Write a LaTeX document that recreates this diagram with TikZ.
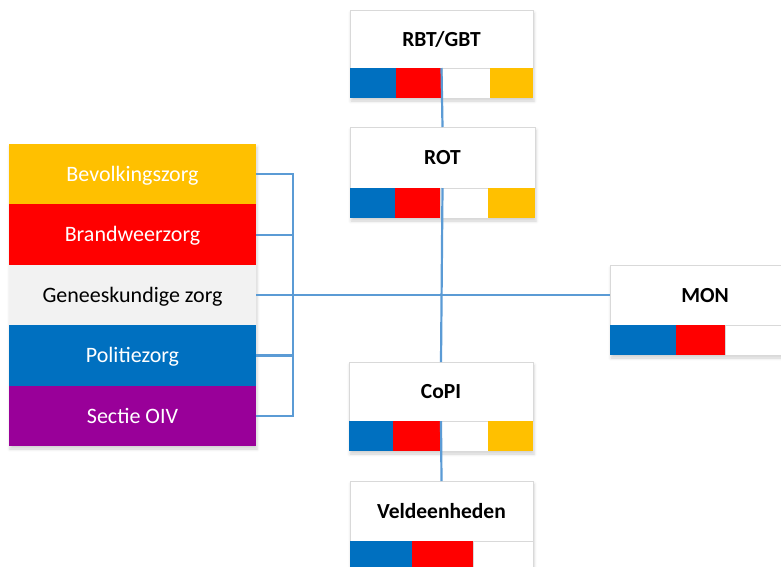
\documentclass[tikz,border=0pt]{standalone}
\usepackage{fontspec}
\setmainfont{Carlito}
\usetikzlibrary{shadows.blur}
\definecolor{cblue}{HTML}{0070C0}
\definecolor{cred}{HTML}{FF0000}
\definecolor{cyellow}{HTML}{FFC000}
\definecolor{cgray}{HTML}{F2F2F2}
\definecolor{cpurple}{HTML}{990099}
\definecolor{linec}{HTML}{5B9BD5}
\definecolor{boxgray}{HTML}{D9D9D9}
\begin{document}
\begin{tikzpicture}[x=1pt,y=-1pt,
  bg/.style={fill=white, anchor=north west, inner sep=0, outer sep=0,
    blur shadow={shadow xshift=1pt, shadow yshift=-3pt, shadow blur radius=3pt, shadow opacity=18}},
  lbl/.style={draw=boxgray, line width=0.7, fill=white, anchor=north west, inner sep=0, outer sep=0,
    minimum width=183pt, minimum height=58pt, font=\bfseries\fontsize{21.5}{25}\selectfont,
    text height=15pt, text depth=1pt},
  seg/.style={anchor=north west, inner sep=0, outer sep=0, minimum height=30pt},
  wseg/.style={seg, fill=white, draw=boxgray, line width=0.7},
  zone/.style={anchor=north west, inner sep=0, outer sep=0, minimum width=247pt,
    minimum height=60.4pt, font=\fontsize{22}{25}\selectfont, text=white,
    text height=16pt, text depth=1.5pt},
  conn/.style={draw=linec, line width=2.2}]
\useasboundingbox (0,0) rectangle (781,566);
\clip (0,0) rectangle (781,566);

% left stack
\node[bg, minimum width=247pt, minimum height=302pt] (stackbg) at (9,144) {};
\node[zone, fill=cyellow] (bev) at (9,144) {Bevolkingszorg};
\node[zone, fill=cred] (bra) at (9,204.4) {Brandweerzorg};
\node[zone, fill=cgray, text=black] (gen) at (9,264.8) {Geneeskundige zorg};
\node[zone, fill=cblue] (pol) at (9,325.2) {Politiezorg};
\node[zone, fill=cpurple] (oiv) at (9,385.6) {Sectie OIV};

% RBT/GBT
\node[bg, minimum width=183pt, minimum height=88pt] (rbtbg) at (350,10) {};
\node[lbl] (rbt) at (350,10) {RBT/GBT};
\node[seg, fill=cblue, minimum width=46pt] (rbt1) at (350,68) {};
\node[seg, fill=cred, minimum width=46pt] (rbt2) at (396,68) {};
\node[wseg, minimum width=48pt] (rbt3) at (442,68) {};
\node[seg, fill=cyellow, minimum width=43pt] (rbt4) at (490,68) {};

% ROT
\node[bg, minimum width=185pt, minimum height=91pt] (rotbg) at (350,127) {};
\node[lbl, minimum width=185pt, minimum height=61pt] (rot) at (350,127) {ROT};
\node[seg, fill=cblue, minimum width=45pt] (rot1) at (350,188) {};
\node[seg, fill=cred, minimum width=45pt] (rot2) at (395,188) {};
\node[wseg, minimum width=48pt] (rot3) at (440,188) {};
\node[seg, fill=cyellow, minimum width=47pt] (rot4) at (488,188) {};

% MON
\node[bg, minimum width=190pt, minimum height=90pt] (monbg) at (610,265) {};
\node[lbl, minimum width=190pt, minimum height=60pt, text width=171pt, align=center] (mon) at (610,265) {MON};
\node[seg, fill=cblue, minimum width=66pt] (mon1) at (610,325) {};
\node[seg, fill=cred, minimum width=49pt] (mon2) at (676,325) {};
\node[wseg, minimum width=75pt] (mon3) at (725,325) {};

% CoPI
\node[bg, minimum width=184pt, minimum height=89pt] (copibg) at (349,362) {};
\node[lbl, minimum width=184pt, minimum height=59pt] (copi) at (349,362) {CoPI};
\node[seg, fill=cblue, minimum width=44pt] (copi1) at (349,421) {};
\node[seg, fill=cred, minimum width=47pt] (copi2) at (393,421) {};
\node[wseg, minimum width=48pt] (copi3) at (440,421) {};
\node[seg, fill=cyellow, minimum width=45pt] (copi4) at (488,421) {};

% Veldeenheden
\node[bg, minimum width=183pt, minimum height=90pt] (veldbg) at (350,481) {};
\node[lbl, minimum height=60pt] (veld) at (350,481) {Veldeenheden};
\node[seg, fill=cblue, minimum width=62pt] (veld1) at (350,541) {};
\node[seg, fill=cred, minimum width=61pt] (veld2) at (412,541) {};
\node[wseg, minimum width=60pt] (veld3) at (473,541) {};

% connectors
\coordinate (brx) at (293,0);
\draw[conn] (rbt.south) -- (rot.north);
\draw[conn] (rot.south) -- (copi.north);
\draw[conn] (copi.south) -- (veld.north);
\draw[conn] (gen.east) -- (mon.west);
\draw[conn] (bev.east) -- (bev.east -| brx) -- (oiv.east -| brx) -- (oiv.east);
\draw[conn] (bra.east) -- (bra.east -| brx);
\draw[conn] (pol.east) -- (pol.east -| brx);
\end{tikzpicture}
\end{document}
